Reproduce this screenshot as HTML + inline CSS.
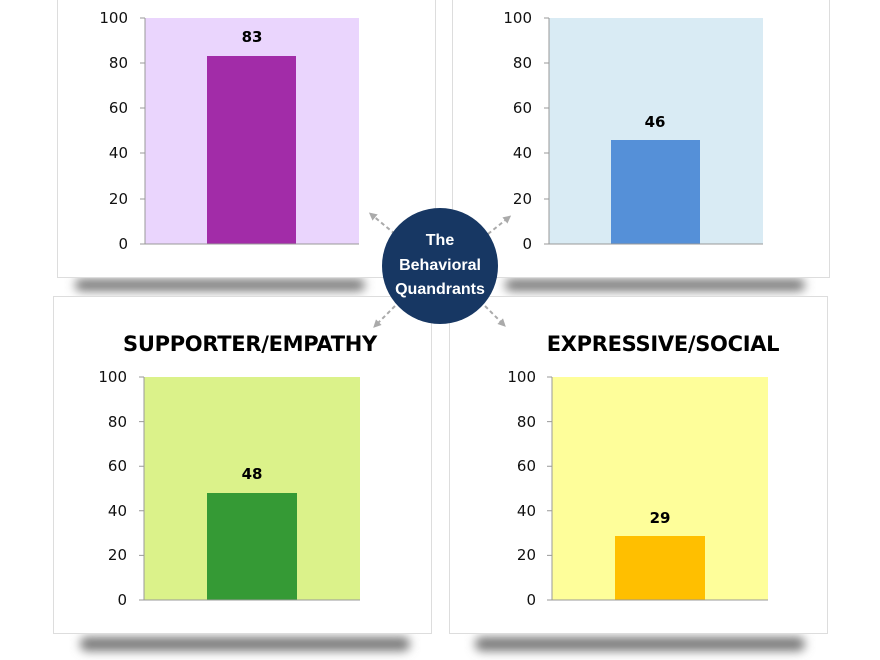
<!DOCTYPE html>
<html><head><meta charset="utf-8"><style>
html,body{margin:0;padding:0;background:#fff;}
svg{display:block;font-family:"Liberation Sans",sans-serif;}
.t{font-family:"DejaVu Sans","Liberation Sans",sans-serif;font-size:15px;fill:#111;}
.v{font-family:"DejaVu Sans","Liberation Sans",sans-serif;font-size:15px;font-weight:bold;fill:#000;}
.h{font-family:"DejaVu Sans","Liberation Sans",sans-serif;font-size:21px;font-weight:900;fill:#000;letter-spacing:-0.3px;}
</style></head><body>
<svg width="880" height="660" viewBox="0 0 880 660" xmlns="http://www.w3.org/2000/svg">
<defs>
<filter id="b" x="-10%" y="-100%" width="120%" height="300%"><feGaussianBlur stdDeviation="5"/></filter>
<marker id="ar" viewBox="0 0 10 10" refX="5" refY="5" markerWidth="4" markerHeight="4" orient="auto"><path d="M0,0L10,5L0,10z" fill="#aaa"/></marker>
</defs>
<rect x="75" y="279" width="290" height="12" rx="6" fill="#777" filter="url(#b)"/>
<rect x="505" y="279" width="300" height="12" rx="6" fill="#777" filter="url(#b)"/>
<rect x="80" y="637" width="330" height="14" rx="7" fill="#777" filter="url(#b)"/>
<rect x="475" y="637" width="330" height="14" rx="7" fill="#777" filter="url(#b)"/>
<rect x="57.5" y="-2" width="378" height="279.5" fill="#fff" stroke="#ddd"/>
<rect x="452.5" y="-2" width="377" height="279.5" fill="#fff" stroke="#ddd"/>
<rect x="53.5" y="296.5" width="378" height="337" fill="#fff" stroke="#ddd"/>
<rect x="449.5" y="296.5" width="378" height="337" fill="#fff" stroke="#ddd"/>

<rect x="145" y="18" width="214" height="226" fill="#ead5fd"/>
<rect x="207" y="56" width="89" height="188" fill="#a22ca8"/>
<path d="M145,18V244H359M140,18H145M140,63H145M140,108H145M140,153H145M140,199H145M140,244H145" stroke="#999" fill="none"/>
<g class="t" text-anchor="end"><text x="128" y="23">100</text><text x="128" y="68">80</text><text x="128" y="113">60</text><text x="128" y="158">40</text><text x="128" y="204">20</text><text x="128" y="249">0</text></g>
<text class="v" x="252" y="42" text-anchor="middle">83</text>

<rect x="549" y="18" width="214" height="226" fill="#d9ebf4"/>
<rect x="611" y="140" width="89" height="104" fill="#5590d8"/>
<path d="M549,18V244H763M544,18H549M544,63H549M544,108H549M544,153H549M544,199H549M544,244H549" stroke="#999" fill="none"/>
<g class="t" text-anchor="end"><text x="532" y="23">100</text><text x="532" y="68">80</text><text x="532" y="113">60</text><text x="532" y="158">40</text><text x="532" y="204">20</text><text x="532" y="249">0</text></g>
<text class="v" x="655" y="127" text-anchor="middle">46</text>

<text class="h" x="250" y="351" text-anchor="middle">SUPPORTER/EMPATHY</text>
<rect x="144" y="377" width="216" height="223" fill="#dbf28a"/>
<rect x="207" y="493" width="90" height="107" fill="#359a35"/>
<path d="M144,377V600H360M139,377H144M139,421.6H144M139,466.2H144M139,510.8H144M139,555.4H144M139,600H144" stroke="#999" fill="none"/>
<g class="t" text-anchor="end"><text x="127" y="382">100</text><text x="127" y="427">80</text><text x="127" y="471">60</text><text x="127" y="516">40</text><text x="127" y="560">20</text><text x="127" y="605">0</text></g>
<text class="v" x="252" y="479" text-anchor="middle">48</text>

<text class="h" x="663" y="351" text-anchor="middle">EXPRESSIVE/SOCIAL</text>
<rect x="552" y="377" width="216" height="223" fill="#fefe9a"/>
<rect x="615" y="536" width="90" height="64" fill="#ffbf00"/>
<path d="M552,377V600H768M547,377H552M547,421.6H552M547,466.2H552M547,510.8H552M547,555.4H552M547,600H552" stroke="#999" fill="none"/>
<g class="t" text-anchor="end"><text x="536" y="382">100</text><text x="536" y="427">80</text><text x="536" y="471">60</text><text x="536" y="516">40</text><text x="536" y="560">20</text><text x="536" y="605">0</text></g>
<text class="v" x="660" y="523" text-anchor="middle">29</text>

<g stroke="#aaa" stroke-width="2" stroke-dasharray="4,3" fill="none" marker-end="url(#ar)">
<line x1="395" y1="234" x2="372" y2="215"/>
<line x1="488" y1="234" x2="508" y2="218"/>
<line x1="395" y1="306" x2="376" y2="325"/>
<line x1="485" y1="306" x2="503" y2="324"/>
</g>
<circle cx="440" cy="266" r="58" fill="#173763"/>
<g fill="#fff" font-weight="bold" font-size="16" text-anchor="middle" font-family="Liberation Sans, sans-serif"><text x="440" y="245">The</text><text x="440" y="270">Behavioral</text><text x="440" y="294">Quandrants</text></g>
</svg>
</body></html>
